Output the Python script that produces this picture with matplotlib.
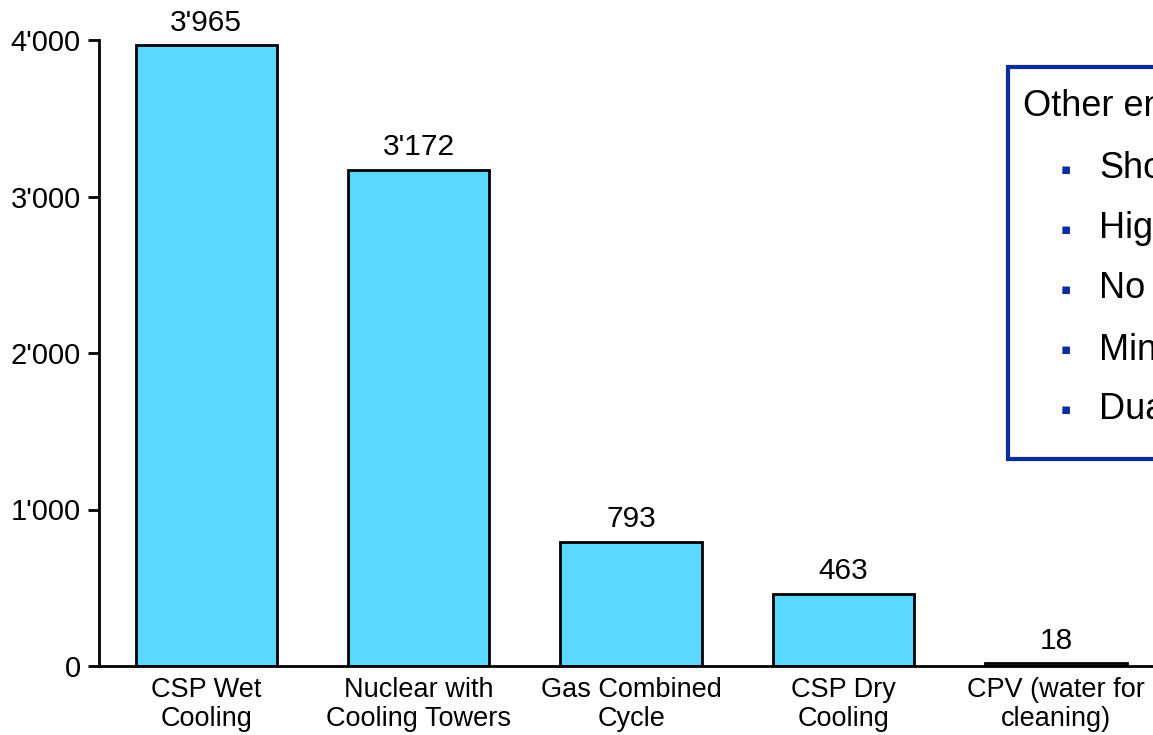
import matplotlib.pyplot as plt
from matplotlib.patches import Rectangle
from matplotlib.ticker import FuncFormatter

plt.rcParams['font.family'] = ['Liberation Sans', 'DejaVu Sans']

categories = ['CSP Wet\nCooling', 'Nuclear with\nCooling Towers', 'Gas Combined\nCycle',
              'CSP Dry\nCooling', 'CPV (water for\ncleaning)']
values = [3965, 3172, 793, 463, 18]
y_ticks = [0, 1000, 2000, 3000, 4000]
box_title = 'Other en'
box_items = ['Sho', 'Hig', 'No', 'Min', 'Dua']

bar_color = '#5AD8FF'
box_blue = '#0A2D9C'


def fmt(v, pos=None):
    return f"{int(v):,}".replace(",", "'")


fig = plt.figure(figsize=(11.53, 7.35), dpi=100)
ax = fig.add_axes([99 / 1153, 69 / 735, 1 - 99 / 1153, 626 / 735])

x = range(len(values))
bars = ax.bar(x, values, width=0.665, color=bar_color, edgecolor='black', linewidth=2)
for xi, v in zip(x, values):
    ax.text(xi, v + 55, fmt(v), ha='center', va='bottom', fontsize=21.5, clip_on=False)

ax.set_xlim(-0.505, 4.457)
ax.set_ylim(0, 4000)
ax.set_yticks(y_ticks)
ax.yaxis.set_major_formatter(FuncFormatter(fmt))
ax.set_xticks(list(x))
ax.set_xticklabels(categories, fontsize=19.5, linespacing=1.12)
ax.tick_params(axis='x', length=0, pad=8)
ax.tick_params(axis='y', length=8, width=2, labelsize=21, pad=5)

for side in ['top', 'right']:
    ax.spines[side].set_visible(False)
for side in ['left', 'bottom']:
    ax.spines[side].set_linewidth(2)

# text box on the right, cut by the figure edge as in the source slide
W, H = 1153, 735
fig.patches.append(Rectangle((1008 / W, 1 - 459 / H), 200 / W, 392 / H,
                             transform=fig.transFigure, facecolor='white',
                             edgecolor=box_blue, linewidth=3))
fig.text(1023 / W, 1 - 106 / H, box_title, fontsize=26, va='center', ha='left')
item_y = [169, 229, 289, 350, 410]
for label, yy in zip(box_items, item_y):
    fig.text(1066 / W, 1 - yy / H, '\u25aa', color=box_blue, fontsize=11,
             va='center', ha='center', family=['DejaVu Sans'])
    fig.text(1099 / W, 1 - yy / H, label, fontsize=26, va='center', ha='left')

fig.savefig('out.png', dpi=100)
